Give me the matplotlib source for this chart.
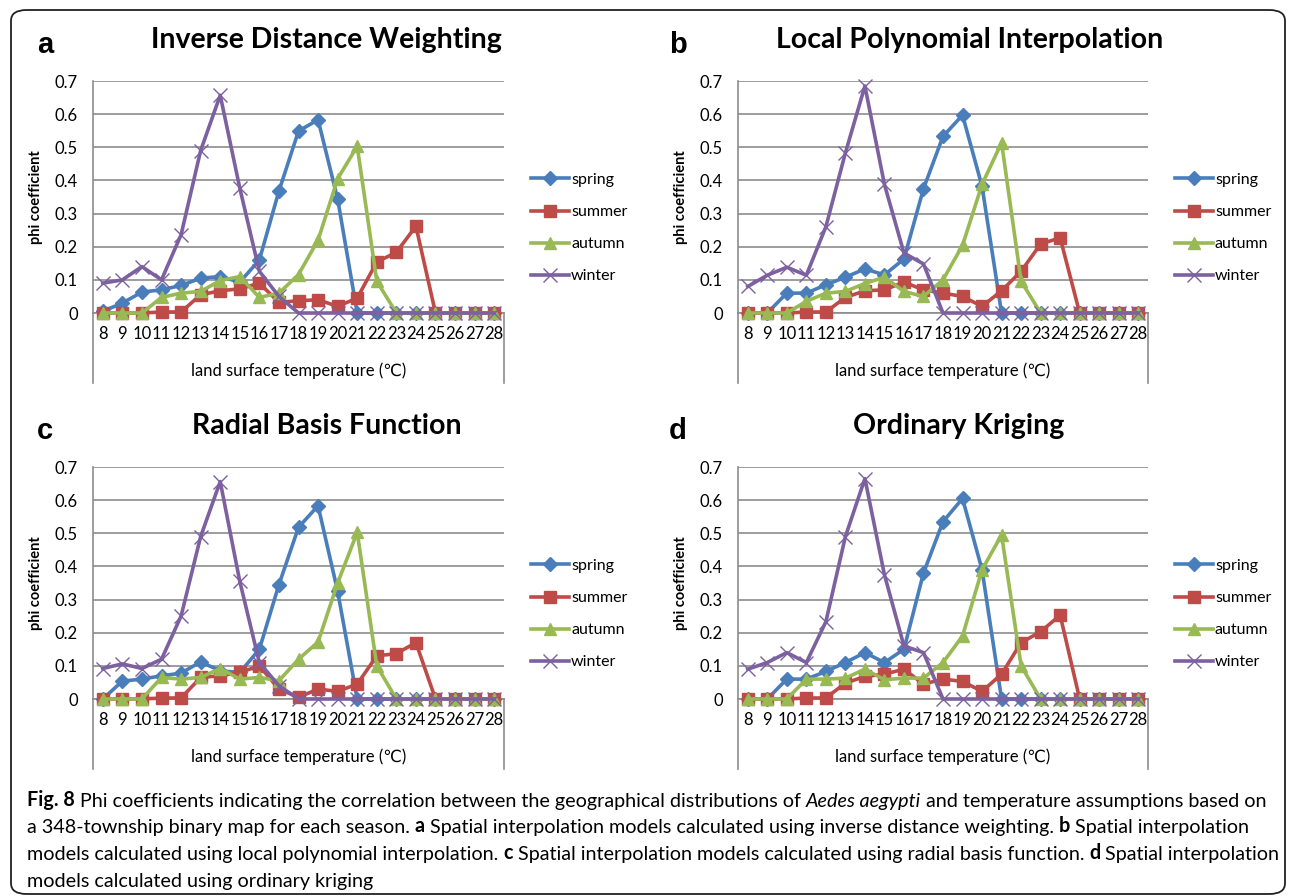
import matplotlib
matplotlib.use("Agg")
import matplotlib.pyplot as plt
import numpy as np
from matplotlib.patches import FancyBboxPatch

# land surface temperature categories (deg C)
temps = list(range(8, 29))
temp_labels = [str(t) for t in temps]
seasons = ["spring", "summer", "autumn", "winter"]

# a - Inverse Distance Weighting
idw_spring = [0.005, 0.03, 0.063, 0.07, 0.083, 0.105, 0.11, 0.093, 0.16, 0.368, 0.549, 0.583, 0.344, 0, 0, 0, 0, 0, 0, 0, 0]
idw_summer = [0, 0, 0, 0.003, 0.003, 0.055, 0.067, 0.073, 0.09, 0.032, 0.037, 0.04, 0.02, 0.045, 0.154, 0.183, 0.262, 0, 0, 0, 0]
idw_autumn = [0, 0, 0, 0.047, 0.06, 0.065, 0.098, 0.11, 0.047, 0.06, 0.116, 0.22, 0.405, 0.503, 0.096, 0, 0, 0, 0, 0, 0]
idw_winter = [0.09, 0.10, 0.14, 0.10, 0.236, 0.49, 0.657, 0.377, 0.126, 0.05, 0, 0, 0, 0, 0, 0, 0, 0, 0, 0, 0]

# b - Local Polynomial Interpolation
lpi_spring = [0, 0, 0.06, 0.06, 0.085, 0.108, 0.133, 0.115, 0.163, 0.375, 0.533, 0.597, 0.382, 0, 0, 0, 0, 0, 0, 0, 0]
lpi_summer = [0, 0, 0, 0.003, 0.003, 0.047, 0.067, 0.07, 0.093, 0.07, 0.06, 0.05, 0.02, 0.067, 0.126, 0.208, 0.227, 0, 0, 0, 0]
lpi_autumn = [0, 0, 0, 0.035, 0.06, 0.065, 0.089, 0.108, 0.065, 0.05, 0.1, 0.204, 0.388, 0.514, 0.096, 0, 0, 0, 0, 0, 0]
lpi_winter = [0.08, 0.114, 0.138, 0.114, 0.26, 0.483, 0.685, 0.388, 0.181, 0.148, 0, 0, 0, 0, 0, 0, 0, 0, 0, 0, 0]

# c - Radial Basis Function
rbf_spring = [0, 0.054, 0.06, 0.07, 0.078, 0.112, 0.085, 0.08, 0.15, 0.345, 0.518, 0.583, 0.325, 0, 0, 0, 0, 0, 0, 0, 0]
rbf_summer = [0, 0, 0, 0.003, 0.003, 0.065, 0.07, 0.08, 0.1, 0.03, 0.005, 0.03, 0.023, 0.045, 0.13, 0.137, 0.17, 0, 0, 0, 0]
rbf_autumn = [0, 0, 0, 0.065, 0.06, 0.065, 0.092, 0.06, 0.065, 0.055, 0.12, 0.172, 0.35, 0.503, 0.1, 0, 0, 0, 0, 0, 0]
rbf_winter = [0.092, 0.106, 0.092, 0.12, 0.25, 0.49, 0.656, 0.355, 0.11, 0.04, 0, 0, 0, 0, 0, 0, 0, 0, 0, 0, 0]

# d - Ordinary Kriging
ok_spring = [0, 0, 0.06, 0.06, 0.083, 0.11, 0.14, 0.11, 0.15, 0.38, 0.535, 0.605, 0.39, 0, 0, 0, 0, 0, 0, 0, 0]
ok_summer = [0, 0, 0, 0.003, 0.003, 0.048, 0.068, 0.075, 0.09, 0.045, 0.06, 0.053, 0.023, 0.075, 0.17, 0.203, 0.253, 0, 0, 0, 0]
ok_autumn = [0, 0, 0, 0.06, 0.06, 0.063, 0.09, 0.058, 0.063, 0.063, 0.11, 0.19, 0.39, 0.495, 0.1, 0, 0, 0, 0, 0, 0]
ok_winter = [0.09, 0.11, 0.14, 0.11, 0.233, 0.49, 0.665, 0.375, 0.16, 0.14, 0, 0, 0, 0, 0, 0, 0, 0, 0, 0, 0]

panel_letters = ["a", "b", "c", "d"]
panel_titles = ["Inverse Distance Weighting", "Local Polynomial Interpolation",
                "Radial Basis Function", "Ordinary Kriging"]
panel_data = [
    [idw_spring, idw_summer, idw_autumn, idw_winter],
    [lpi_spring, lpi_summer, lpi_autumn, lpi_winter],
    [rbf_spring, rbf_summer, rbf_autumn, rbf_winter],
    [ok_spring, ok_summer, ok_autumn, ok_winter],
]

colors = ["#4A7EBB", "#BE4B48", "#98B954", "#7D60A0"]
markers = ["D", "s", "^", "x"]
msizes = [7, 8.5, 9, 10]
grid_c = "#8C8C8C"

W, H = 1292, 896
fig = plt.figure(figsize=(W / 100, H / 100), dpi=100)

# frame round the whole figure
frame = FancyBboxPatch((11 / W, 1 - 894 / H), 1274 / W, 884 / H,
                       boxstyle="round,pad=0,rounding_size=0.012",
                       transform=fig.transFigure, fill=False, ec="#222222", lw=1.3)
fig.patches.append(frame)

# pixel boxes (left, top=0.7 line, right, bottom=0 line)
boxes = [(93, 81, 504, 313), (738, 81, 1148, 313),
         (93, 467, 504, 699), (738, 467, 1148, 699)]
title_x = [326, 970, 327, 959]
letter_x = [45, 678, 45, 678]

for k, (l, t, r, b) in enumerate(boxes):
    ax = fig.add_axes([l / W, 1 - b / H, (r - l) / W, (b - t) / H])
    x = np.arange(len(temps))
    for s, name in enumerate(seasons):
        ax.plot(x, panel_data[k][s], color=colors[s], lw=2.6, marker=markers[s],
                ms=msizes[s], mew=1, mec=colors[s],
                label=name, clip_on=False, zorder=3 + s)
    ax.set_xlim(-0.5, len(temps) - 0.5)
    ax.set_ylim(0, 0.7)
    ax.set_yticks(np.arange(0, 0.71, 0.1))
    ax.set_yticklabels(["0", "0.1", "0.2", "0.3", "0.4", "0.5", "0.6", "0.7"],
                       family="Lato", fontsize=12)
    ax.set_xticks(x)
    ax.set_xticklabels(temp_labels, family="Lato", fontsize=12)
    ax.tick_params(length=0)
    ax.tick_params(axis="y", pad=11)
    ax.tick_params(axis="x", pad=9)
    ax.yaxis.grid(True, color=grid_c, lw=1.2)
    ax.set_axisbelow(True)
    for sp in ["top", "right"]:
        ax.spines[sp].set_visible(False)
    for sp in ["left", "bottom"]:
        ax.spines[sp].set_color(grid_c)
        ax.spines[sp].set_linewidth(1.2)
    ext = -70 / (b - t)
    ax.plot([0, 0], [0, ext], transform=ax.transAxes, clip_on=False, color=grid_c, lw=1.2)
    ax.plot([1, 1], [0, ext], transform=ax.transAxes, clip_on=False, color=grid_c, lw=1.2)
    ax.text(0.5, -58 / (b - t), "land surface temperature (\u2103)", transform=ax.transAxes,
            ha="center", va="center", fontsize=12, family=["Lato", "DejaVu Sans"])
    ax.set_ylabel("phi coefficient", family="Lato", fontsize=10.5, fontweight="bold", labelpad=8)
    ax.legend(loc="center left", bbox_to_anchor=(1.066, 0.366), frameon=False,
              borderpad=0, borderaxespad=0, handlelength=2.4, handletextpad=0.1,
              labelspacing=1.12, numpoints=1, prop={"family": "Lato", "size": 11.5})
    fig.text(title_x[k] / W, 1 - (t - 41) / H, panel_titles[k], ha="center", va="center",
             fontsize=20.5, fontweight="bold", family="Lato")
    fig.text(letter_x[k] / W, 1 - (t - 36) / H, panel_letters[k], ha="center", va="center",
             fontsize=21, fontweight="bold", family="Liberation Sans")

# caption with bold / italic runs
cap = fig.add_axes([0, 0, 1, 1])
cap.axis("off")
cap.set_xlim(0, 1)
cap.set_ylim(0, 1)
caption_lines = [
    [("Fig. 8", "b"), (" Phi coefficients indicating the correlation between the geographical distributions of ", "n"),
     ("Aedes aegypti", "i"), (" and temperature assumptions based on", "n")],
    [("a 348-township binary map for each season. ", "n"), ("a", "b"),
     (" Spatial interpolation models calculated using inverse distance weighting. ", "n"), ("b", "b"),
     (" Spatial interpolation", "n")],
    [("models calculated using local polynomial interpolation. ", "n"), ("c", "b"),
     (" Spatial interpolation models calculated using radial basis function. ", "n"), ("d", "b"),
     (" Spatial interpolation", "n")],
    [("models calculated using ordinary kriging", "n")],
]
# baselines in pixels; bottom of text box sits a little below the baseline
base_y = [806, 833, 860, 887]
for line, by in zip(caption_lines, base_y):
    prev = None
    for txt, st in line:
        kw = dict(fontsize=14.2, family="Lato", va="baseline", ha="left",
                  fontweight="bold" if st == "b" else "normal",
                  fontstyle="italic" if st == "i" else "normal")
        if prev is None:
            prev = cap.text(27 / W, 1 - by / H, txt, transform=fig.transFigure, **kw)
        else:
            kw["va"] = "bottom"
            prev = cap.annotate(txt, xy=(1, 0), xycoords=prev, **kw)

fig.savefig("out.png", dpi=100)
